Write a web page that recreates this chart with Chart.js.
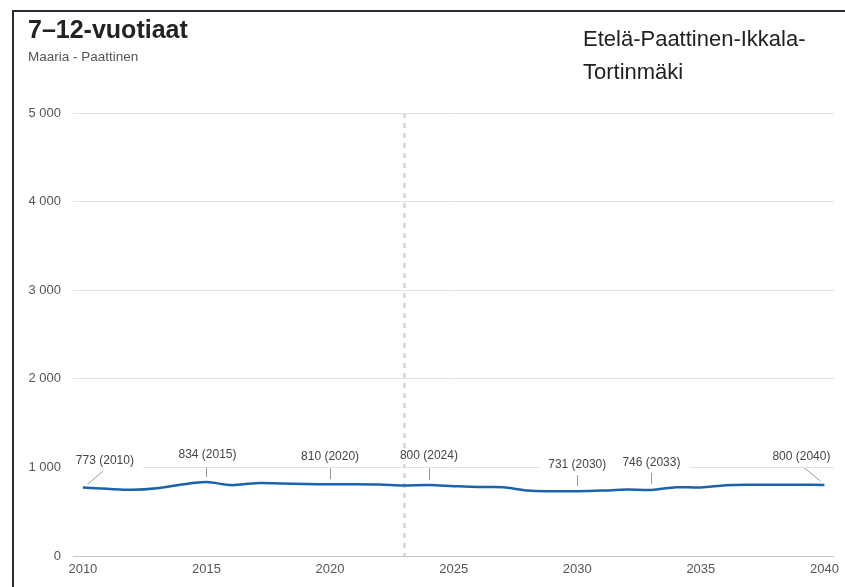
<!DOCTYPE html>
<html>
<head>
<meta charset="utf-8">
<script src="https://cdn.jsdelivr.net/npm/chart.js@4"></script>
<style>
  html, body { margin: 0; padding: 0; background: #fff; }
  #wrap { position: relative; width: 845px; height: 587px; overflow: hidden; font-family: "Liberation Sans", Arial, sans-serif; }
  #frame { position: absolute; left: 12px; top: 10px; width: 900px; height: 700px; border-left: 2px solid #2b2b3a; border-top: 2px solid #2b2b3a; }
  #title { position: absolute; left: 28px; top: 16px; font-size: 25px; line-height: 26px; font-weight: bold; color: #222; white-space: nowrap; }
  #subtitle { position: absolute; left: 28px; top: 50px; font-size: 13.5px; line-height: 14px; color: #555; white-space: nowrap; }
  #area { position: absolute; left: 583px; top: 22px; font-size: 22px; line-height: 33px; color: #222; white-space: nowrap; }
  canvas { position: absolute; left: 0; top: 0; }
</style>
</head>
<body>
<div id="wrap">
  <div id="frame"></div>
  <canvas id="c" width="845" height="587"></canvas>
  <div id="title">7–12-vuotiaat</div>
  <div id="subtitle">Maaria - Paattinen</div>
  <div id="area">Etelä-Paattinen-Ikkala-<br>Tortinmäki</div>
</div>
<script>
// ---- data ----
const years = [2010,2011,2012,2013,2014,2015,2016,2017,2018,2019,2020,2021,2022,2023,2024,2025,2026,2027,2028,2029,2030,2031,2032,2033,2034,2035,2036,2037,2038,2039,2040];
const values = [773,758,747,765,807,834,800,822,818,812,810,810,807,797,800,788,778,776,738,731,731,738,750,746,776,773,799,805,805,805,800];
const xTicks = [2010,2015,2020,2025,2030,2035,2040];
const yTicks = [0,1000,2000,3000,4000,5000];
const forecastStartYear = 2023;
const annotatedYears = [2010,2015,2020,2024,2030,2033,2040];

// ---- label layout (pixel offsets relative to the data point) ----
const labelLayout = {
  2010: { dx: 22, dy: -27, lead: [[19,-16],[4,-3]] },
  2015: { dx: 1,  dy: -27, lead: [[0,-15],[0,-5]] },
  2020: { dx: 0,  dy: -28, lead: [[0,-16],[0,-5]] },
  2024: { dx: 0,  dy: -29, lead: [[0,-17],[0,-5]] },
  2030: { dx: 0,  dy: -27, lead: [[0,-16],[0,-5]] },
  2033: { dx: 0,  dy: -27, lead: [[0,-17],[0,-6]] },
  2040: { dx: -23, dy: -28, lead: [[-20,-17],[-4,-4]] }
};

const fmt = v => String(v).replace(/\B(?=(\d{3})+(?!\d))/g, ' ');

const forecastLine = {
  id: 'forecastLine',
  beforeDatasetsDraw(chart) {
    const { ctx, chartArea, scales } = chart;
    const x = Math.round(scales.x.getPixelForValue(forecastStartYear)) + 0.5;
    ctx.save();
    ctx.strokeStyle = '#dadada';
    ctx.lineWidth = 3;
    ctx.setLineDash([5, 5]);
    ctx.beginPath();
    ctx.moveTo(x, chartArea.top);
    ctx.lineTo(x, chartArea.bottom);
    ctx.stroke();
    ctx.restore();
  }
};

const pointLabels = {
  id: 'pointLabels',
  afterDatasetsDraw(chart) {
    const { ctx, scales } = chart;
    ctx.save();
    ctx.font = '12px "Liberation Sans", Arial, sans-serif';
    ctx.textAlign = 'center';
    ctx.textBaseline = 'middle';
    annotatedYears.forEach(y => {
      const i = years.indexOf(y);
      const px = scales.x.getPixelForValue(y);
      const py = scales.y.getPixelForValue(values[i]);
      const L = labelLayout[y];
      const txt = fmt(values[i]) + ' (' + y + ')';
      const w = ctx.measureText(txt).width;
      const lx = px + L.dx, ly = py + L.dy;
      ctx.fillStyle = '#fff';
      ctx.fillRect(lx - w / 2 - 9, ly - 8, w + 18, 16);
      ctx.fillStyle = '#444';
      ctx.fillText(txt, lx, ly);
      ctx.strokeStyle = '#999';
      ctx.lineWidth = 1;
      ctx.beginPath();
      ctx.moveTo(Math.round(px + L.lead[0][0]) + 0.5, py + L.lead[0][1]);
      ctx.lineTo(Math.round(px + L.lead[1][0]) + 0.5, py + L.lead[1][1]);
      ctx.stroke();
    });
    ctx.restore();
  }
};

new Chart(document.getElementById('c'), {
  type: 'line',
  data: {
    datasets: [{
      data: years.map((y, i) => ({ x: y, y: values[i] })),
      borderColor: '#1b62aa',
      borderWidth: 2.5,
      pointRadius: 0,
      tension: 0.3,
      fill: false
    }]
  },
  options: {
    responsive: false,
    animation: false,
    layout: { padding: { left: 0, right: 8, top: 113, bottom: 0 } },
    plugins: { legend: { display: false }, tooltip: { enabled: false } },
    scales: {
      x: {
        type: 'linear',
        min: 2009.6,
        max: 2040.4,
        afterBuildTicks: s => { s.ticks = xTicks.map(v => ({ value: v })); },
        afterFit: s => { s.height = 31; },
        grid: { display: false, drawTicks: false },
        border: { display: false },
        ticks: {
          padding: 6,
          color: '#555',
          font: { family: '"Liberation Sans", Arial, sans-serif', size: 13 },
          maxRotation: 0,
          callback: v => String(v)
        }
      },
      y: {
        min: 0,
        max: 5000,
        afterBuildTicks: s => { s.ticks = yTicks.map(v => ({ value: v })); },
        afterFit: s => { s.width = 73; },
        grid: {
          drawTicks: false,
          color: ctx => ctx.tick && ctx.tick.value === 0 ? '#c8c8c8' : '#e2e2e2',
          lineWidth: 1
        },
        border: { display: false },
        ticks: {
          padding: 12,
          color: '#555',
          font: { family: '"Liberation Sans", Arial, sans-serif', size: 13 },
          callback: v => fmt(v)
        }
      }
    }
  },
  plugins: [forecastLine, pointLabels]
});
</script>
</body>
</html>
